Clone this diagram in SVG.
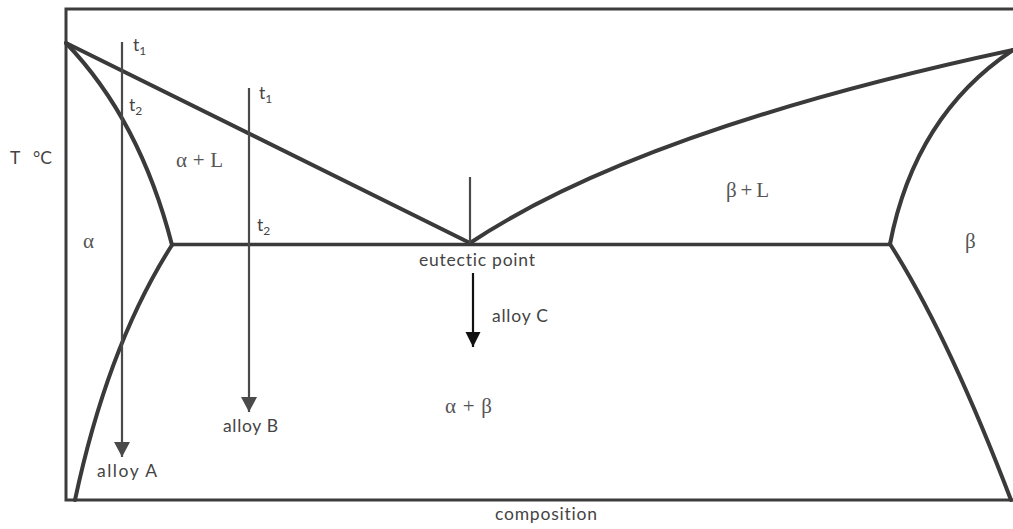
<svg xmlns="http://www.w3.org/2000/svg" width="1013" height="529" viewBox="0 0 1013 529">
<style>
.frame{fill:none;stroke:#3c3c3c;stroke-width:3}
.curve{fill:none;stroke:#3a3a3a;stroke-width:4;stroke-linejoin:round;stroke-linecap:round}
.eut{fill:none;stroke:#3a3a3a;stroke-width:3.5}
.shaft{fill:none;stroke:#4a4a4a;stroke-width:2.2}
.lbl{font-family:"Lato","Open Sans","Liberation Sans",sans-serif;font-size:17.5px;fill:#444;font-variant-ligatures:none}
.greek{font-family:"Liberation Serif","DejaVu Serif",serif;font-size:21px;fill:#555}
</style>
<defs>
<marker id="ah" markerUnits="userSpaceOnUse" markerWidth="16" markerHeight="16" refX="15" refY="8" orient="auto">
<path d="M0,0 L15,8 L0,16 z" fill="#4a4a4a"/>
</marker>
<marker id="ahc" markerUnits="userSpaceOnUse" markerWidth="16" markerHeight="16" refX="15" refY="7.5" orient="auto">
<path d="M0,0 L15,7.5 L0,15 z" fill="#111"/>
</marker>
</defs>
<rect width="1013" height="529" fill="#fff"/>
<g id="frame">
<path class="frame" d="M1013,9 H66 V500 H1013"/>
</g>
<g id="phase-boundaries">
<path class="curve" d="M66,43 L470,243"/>
<path class="curve" d="M470,243 Q640,130 1013,50"/>
<path class="curve" d="M66,43 Q140,120 172,245"/>
<path class="curve" d="M172,245 Q108,345 75,500"/>
<path class="curve" d="M1013,50 Q915,115 890,244"/>
<path class="curve" d="M890,244 Q948,335 1011,500"/>
<path class="eut" d="M172,244.5 H890"/>
<path class="shaft" d="M470,177 V243"/>
</g>
<g id="connectors">
<path id="arrow-a" class="shaft" d="M122,42 V457" marker-end="url(#ah)"/>
<path id="arrow-b" class="shaft" d="M249,88 V412" marker-end="url(#ah)"/>
<path id="arrow-c" d="M473,273 V347" stroke="#111" stroke-width="2.2" marker-end="url(#ahc)"/>
</g>
<g id="labels">
<text class="lbl" x="10" y="164" font-size="18">T<tspan x="33">°C</tspan></text>
<text class="lbl" x="133" y="51">t<tspan font-size="12" dy="4">1</tspan></text>
<text class="lbl" x="129" y="111">t<tspan font-size="12" dy="4">2</tspan></text>
<text class="lbl" x="259" y="99">t<tspan font-size="12" dy="4">1</tspan></text>
<text class="lbl" x="257" y="231">t<tspan font-size="12" dy="4">2</tspan></text>
<text class="greek" x="176" y="167" textLength="47" lengthAdjust="spacing">α + L</text>
<text class="greek" x="83" y="248">α</text>
<text class="greek" x="726" y="197" textLength="43" lengthAdjust="spacing">β + L</text>
<text class="greek" x="965" y="248">β</text>
<text class="greek" x="445" y="413" textLength="47" lengthAdjust="spacing">α + β</text>
<text class="lbl" x="419" y="266" textLength="116" lengthAdjust="spacing">eutectic point</text>
<text class="lbl" x="492" y="322" textLength="56" lengthAdjust="spacing">alloy C</text>
<text class="lbl" x="223" y="432" textLength="55" lengthAdjust="spacing">alloy B</text>
<text class="lbl" x="97" y="477" textLength="60" lengthAdjust="spacing">alloy A</text>
<text class="lbl" x="495" y="520" textLength="102" lengthAdjust="spacing">composition</text>
</g>
</svg>
